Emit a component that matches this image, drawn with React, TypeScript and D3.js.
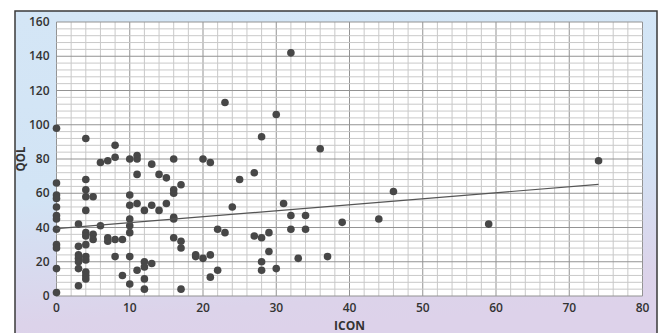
import React from "react";
import * as d3 from "d3";

// ICON values (x) and QOL values (y), grouped by ICON column
const iconValues: number[] = [
  0, 0, 0, 0, 0, 0, 0, 0, 0, 0, 0, 0,
  3, 3, 3, 3, 3, 3, 3,
  4, 4, 4, 4, 4, 4, 4, 4, 4, 4, 4, 4, 4,
  5, 5, 5,
  6, 6,
  7, 7, 7,
  8, 8, 8, 8,
  9, 9,
  10, 10, 10, 10, 10, 10, 10, 10,
  11, 11, 11, 11, 11,
  12, 12, 12, 12, 12,
  13, 13, 13,
  14, 14,
  15, 15,
  16, 16, 16, 16, 16, 16,
  17, 17, 17, 17,
  19, 19,
  20, 20,
  21, 21, 21,
  22, 22,
  23, 23,
  24,
  25,
  27, 27,
  28, 28, 28, 28,
  29, 29,
  30, 30,
  31,
  32, 32, 32,
  33,
  34, 34,
  36,
  37,
  39,
  44,
  46,
  59,
  74,
];
const qolValues: number[] = [
  98, 66, 59, 57, 52, 47, 45, 39, 30, 28, 16, 2,
  42, 29, 24, 22, 20, 16, 6,
  92, 68, 62, 58, 50, 37, 35, 30, 23, 21, 14, 12, 10,
  58, 36, 33,
  78, 41,
  79, 34, 32,
  88, 81, 33, 23,
  33, 12,
  80, 59, 53, 45, 41, 37, 23, 7,
  82, 80, 71, 54, 15,
  50, 20, 17, 10, 4,
  77, 53, 19,
  71, 50,
  69, 54,
  80, 62, 60, 46, 45, 34,
  65, 32, 28, 4,
  24, 23,
  80, 22,
  78, 24, 11,
  39, 15,
  113, 37,
  52,
  68,
  72, 35,
  93, 34, 20, 15,
  37, 26,
  106, 16,
  54,
  142, 47, 39,
  22,
  47, 39,
  86,
  23,
  43,
  45,
  61,
  42,
  79,
];

// Linear trend line endpoints
const trendX: number[] = [0, 74];
const trendY: number[] = [39.3, 65.2];

const xTicks: number[] = [0, 10, 20, 30, 40, 50, 60, 70, 80];
const yTicks: number[] = [0, 20, 40, 60, 80, 100, 120, 140, 160];
const xMinor: number[] = d3.range(0, 81, 2);
const yMinor: number[] = d3.range(0, 161, 4);

const W = 659;
const H = 333;
const plot = { left: 56.5, right: 642.5, top: 22, bottom: 296 };

export default function App() {
  const x = d3.scaleLinear().domain([0, 80]).range([plot.left, plot.right]);
  const y = d3.scaleLinear().domain([0, 160]).range([plot.bottom, plot.top]);
  const font = "'Open Sans', 'Noto Sans', sans-serif";
  const line = d3
    .line<number>()
    .x((_, i) => x(trendX[i]))
    .y((_, i) => y(trendY[i]));

  return (
    <svg
      width={W}
      height={H}
      style={{ position: "absolute", left: 0, top: 0, display: "block" }}
    >
      <defs>
        <linearGradient id="bg" x1="0" y1="0" x2="0.15" y2="1">
          <stop offset="0%" stopColor="#d4e6f6" />
          <stop offset="55%" stopColor="#d2e4f5" />
          <stop offset="92%" stopColor="#dcd3ea" />
          <stop offset="100%" stopColor="#ddd2ea" />
        </linearGradient>
      </defs>
      <rect x={0} y={0} width={W} height={H} fill="#ffffff" />
      <rect x={15} y={11} width={642} height={H} fill="url(#bg)" stroke="#3a3a3a" strokeWidth={1.5} />
      <rect
        x={plot.left}
        y={plot.top}
        width={plot.right - plot.left}
        height={plot.bottom - plot.top}
        fill="#ffffff"
      />
      {/* grid */}
      {xMinor.map((v) => (
        <line
          key={"xm" + v}
          x1={x(v)}
          x2={x(v)}
          y1={plot.top}
          y2={plot.bottom}
          stroke={v % 10 === 0 ? "#939393" : "#c9c9c9"}
          strokeWidth={1}
        />
      ))}
      {yMinor.map((v) => (
        <line
          key={"ym" + v}
          x1={plot.left}
          x2={plot.right}
          y1={y(v)}
          y2={y(v)}
          stroke={v % 20 === 0 ? "#939393" : "#c9c9c9"}
          strokeWidth={1}
        />
      ))}
      {/* tick labels */}
      {yTicks.map((v) => (
        <text
          key={"yt" + v}
          x={plot.left - 7}
          y={y(v)}
          dy="0.35em"
          textAnchor="end"
          fontFamily={font}
          fontSize={12}
          fontWeight={600}
          fill="#333"
        >
          {v}
        </text>
      ))}
      {xTicks.map((v) => (
        <text
          key={"xt" + v}
          x={x(v)}
          y={plot.bottom + 16}
          textAnchor="middle"
          fontFamily={font}
          fontSize={12}
          fontWeight={600}
          fill="#333"
        >
          {v}
        </text>
      ))}
      <text
        x={(plot.left + plot.right) / 2}
        y={plot.bottom + 34}
        textAnchor="middle"
        fontFamily={font}
        fontSize={12}
        fontWeight="bold"
        fill="#333"
      >
        ICON
      </text>
      <text
        transform={`translate(25,${(plot.top + plot.bottom) / 2}) rotate(-90)`}
        textAnchor="middle"
        fontFamily={font}
        fontSize={11.5}
        fontWeight="bold"
        fill="#333"
      >
        QOL
      </text>
      {/* points */}
      {iconValues.map((v, i) => (
        <circle key={"p" + i} cx={x(v)} cy={y(qolValues[i])} r={3.8} fill="#474747" />
      ))}
      {/* trend line */}
      <path d={line(trendX) || ""} fill="none" stroke="#555" strokeWidth={1.2} />
    </svg>
  );
}
